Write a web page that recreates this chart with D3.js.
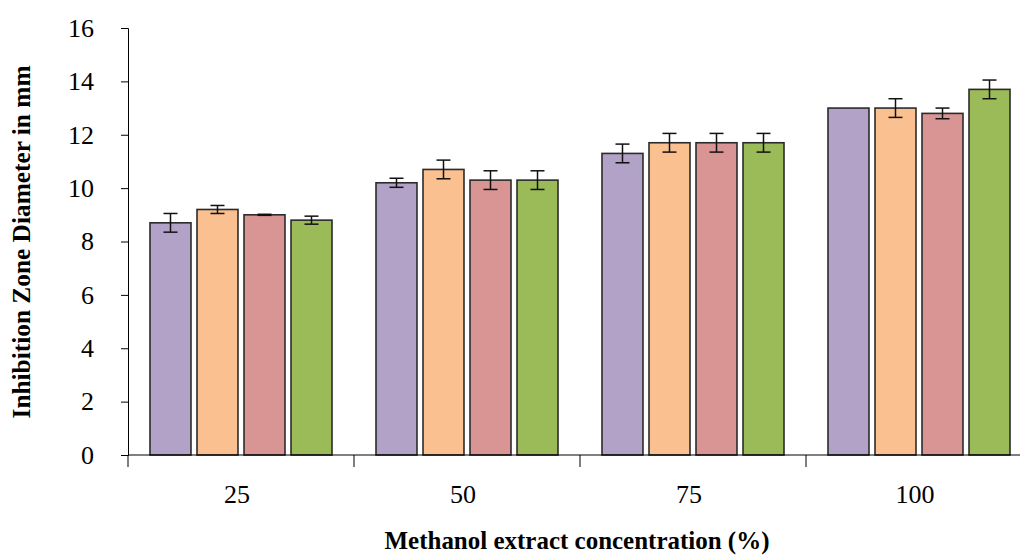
<!DOCTYPE html>
<html>
<head>
<meta charset="utf-8">
<script src="https://cdn.jsdelivr.net/npm/d3@7"></script>
<style>
  html, body { margin: 0; padding: 0; background: #fff; }
  svg { display: block; }
  text { font-family: "Liberation Serif", "Times New Roman", serif; fill: #000; }
</style>
</head>
<body>
<svg id="chart" width="1020" height="556"></svg>
<script>
// Concentrations on the x axis
const categories = ["25", "50", "75", "100"];
// Four test series per concentration (inhibition zone diameter, mm)
const seriesNames = ["S1", "S2", "S3", "S4"];
const seriesColors = ["#b3a2c7", "#fac090", "#d99594", "#9bbb59"];
const valuesS1 = [8.7, 10.2, 11.3, 13.0];
const valuesS2 = [9.2, 10.7, 11.7, 13.0];
const valuesS3 = [9.0, 10.3, 11.7, 12.8];
const valuesS4 = [8.8, 10.3, 11.7, 13.7];
// Standard deviations
const errorsS1 = [0.35, 0.17, 0.35, 0.0];
const errorsS2 = [0.15, 0.35, 0.35, 0.35];
const errorsS3 = [0.02, 0.35, 0.35, 0.2];
const errorsS4 = [0.15, 0.35, 0.35, 0.35];
const yTicks = [0, 2, 4, 6, 8, 10, 12, 14, 16];

const values = [valuesS1, valuesS2, valuesS3, valuesS4];
const errors = [errorsS1, errorsS2, errorsS3, errorsS4];

const rows = [];
categories.forEach((c, ci) => {
  seriesNames.forEach((s, si) => {
    rows.push({ cat: c, series: s, si, value: values[si][ci], err: errors[si][ci] });
  });
});

const svg = d3.select("#chart");
const plotLeft = 128, plotBottom = 455, plotTop = 28, bandW = 226;

const x = d3.scaleBand().domain(categories).range([plotLeft, plotLeft + bandW * categories.length]).padding(0);
const xInner = d3.scaleBand().domain(seriesNames).range([0, x.bandwidth()])
  .paddingInner(0.128).paddingOuter(0.468);
const y = d3.scaleLinear().domain([0, 16]).range([plotBottom, plotTop]);

// Bars
svg.append("g").selectAll("rect").data(rows).join("rect")
  .attr("x", d => x(d.cat) + xInner(d.series))
  .attr("y", d => y(d.value))
  .attr("width", xInner.bandwidth())
  .attr("height", d => y(0) - y(d.value))
  .attr("fill", d => seriesColors[d.si])
  .attr("stroke", "#2b2b2b")
  .attr("stroke-width", 1.6);

// Error bars
const capHalf = 7;
const eb = svg.append("g").attr("stroke", "#111").attr("stroke-width", 1.5);
rows.filter(d => d.err > 0).forEach(d => {
  const cx = x(d.cat) + xInner(d.series) + xInner.bandwidth() / 2;
  const y1 = y(d.value + d.err), y2 = y(d.value - d.err);
  eb.append("line").attr("x1", cx).attr("x2", cx).attr("y1", y1).attr("y2", y2);
  eb.append("line").attr("x1", cx - capHalf).attr("x2", cx + capHalf).attr("y1", y1).attr("y2", y1);
  eb.append("line").attr("x1", cx - capHalf).attr("x2", cx + capHalf).attr("y1", y2).attr("y2", y2);
});

// Y axis
const yAxis = svg.append("g").attr("transform", `translate(${plotLeft},0)`)
  .call(d3.axisLeft(y).tickValues(yTicks).tickSize(7).tickPadding(27).tickFormat(d3.format("d")));
yAxis.select(".domain").attr("stroke", "#000").attr("stroke-width", 1);
yAxis.selectAll(".tick line").attr("stroke", "#000");
yAxis.selectAll("text").style("font-size", "26px").attr("font-family", "Liberation Serif");

// X axis: line along zero, ticks on category boundaries
svg.append("line").attr("x1", plotLeft).attr("x2", 1020).attr("y1", plotBottom).attr("y2", plotBottom)
  .attr("stroke", "#000").attr("stroke-width", 1);
const boundaries = categories.map(c => x(c));
svg.append("g").selectAll("line").data(boundaries).join("line")
  .attr("x1", d => d).attr("x2", d => d).attr("y1", plotBottom).attr("y2", plotBottom + 12)
  .attr("stroke", "#000").attr("stroke-width", 1);
svg.append("g").selectAll("text").data(categories).join("text")
  .attr("x", d => x(d) + x.bandwidth() / 2 - 4)
  .attr("y", 503)
  .attr("text-anchor", "middle")
  .style("font-size", "26px")
  .text(d => d);

// Axis titles
svg.append("text")
  .attr("x", 577).attr("y", 549)
  .attr("text-anchor", "middle")
  .attr("textLength", 385).attr("lengthAdjust", "spacingAndGlyphs")
  .style("font-size", "25px").style("font-weight", "bold")
  .text("Methanol extract concentration (%)");
svg.append("text")
  .attr("transform", "translate(30,242) rotate(-90)")
  .attr("text-anchor", "middle")
  .attr("textLength", 353).attr("lengthAdjust", "spacingAndGlyphs")
  .style("font-size", "25px").style("font-weight", "bold")
  .text("Inhibition Zone Diameter in mm");
</script>
</body>
</html>
